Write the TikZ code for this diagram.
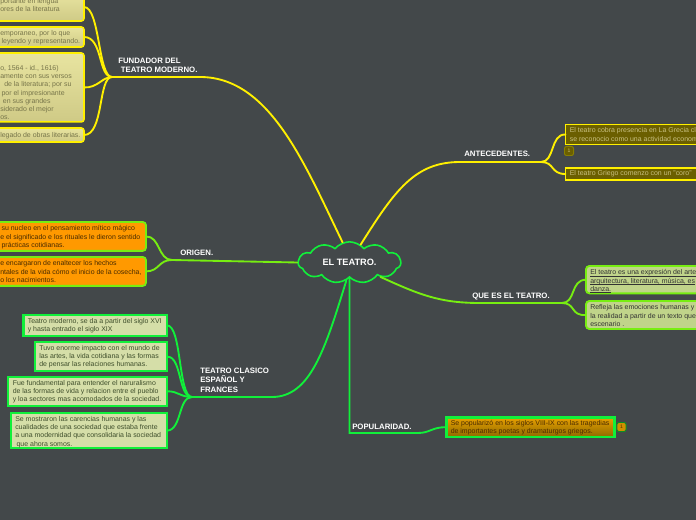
\documentclass[tikz,border=0pt]{standalone}
\usepackage{fontspec}
\setmainfont{Liberation Sans}
\usepackage{xcolor}
\usetikzlibrary{shapes.symbols}
\definecolor{fondo}{HTML}{43484A}
\definecolor{amarillo}{HTML}{FFF000}
\definecolor{verdelima}{HTML}{77EE11}
\definecolor{verde}{HTML}{11F03A}
\definecolor{crema}{HTML}{E8E4A0}
\definecolor{cremabajo}{HTML}{CFCA86}
\definecolor{textoamarillo}{HTML}{77754A}
\definecolor{verdeclaro}{HTML}{D5DEA8}
\definecolor{textoverde}{HTML}{3F4F2C}
\definecolor{oliva}{HTML}{6B5F00}
\definecolor{olivaclaro}{HTML}{C8C080}
\definecolor{naranja}{HTML}{FF9900}
\definecolor{marron}{HTML}{4A2C00}
\definecolor{lima}{HTML}{C0D48A}
\definecolor{ocre}{HTML}{E8A000}
\definecolor{ocrebajo}{HTML}{8E6A00}
\newcommand{\subraya}[1]{\setbox0\hbox{#1}\rlap{\rule[-0.8pt]{\wd0}{0.3pt}}\box0}
\tikzset{
  rama/.style={line width=1.4pt, line cap=round},
  titulo/.style={font=\bfseries\fontsize{5.85}{6.9}\selectfont, text=white, align=left, anchor=north west, inner sep=0pt},
  caja/.style={anchor=north west, inner sep=0pt, outer sep=0pt, line width=1.2pt},
  cajaamarilla/.style={caja, draw=amarillo, rounded corners=2pt, top color=crema, bottom color=cremabajo},
  cajaverde/.style={caja, draw=verde, fill=verdeclaro, line width=1.6pt},
  cajaoliva/.style={caja, draw=amarillo, fill=oliva, line width=1.4pt},
  cajanaranja/.style={caja, draw=verdelima, fill=naranja, rounded corners=2.5pt, line width=1.4pt},
  cajalima/.style={caja, draw=verdelima, fill=lima, rounded corners=2.5pt, line width=1.4pt},
  marca/.style={rounded corners=1.5pt, line width=.7pt, minimum size=6.8pt, inner sep=0pt, font=\fontsize{3.8}{4}\selectfont},
  texto/.style={anchor=north west, inner sep=0pt, font=\fontsize{5.22}{6.2}\selectfont, align=left, text=#1},
}
\begin{document}
\begin{tikzpicture}[x=0.75pt,y=-0.75pt]
  \useasboundingbox (0,0) rectangle (696,520);
  \fill[fondo] (0,0) rectangle (696,520);
  % Nube central
  \node[cloud, cloud puffs=11, cloud puff arc=100, aspect=2.4, draw=verde, fill=fondo, line width=1.2pt,
    minimum width=77pt, minimum height=31pt, inner sep=0pt, font=\bfseries\fontsize{6.9}{8}\selectfont, text=white] (teatro) at (349.5,262.5) {EL TEATRO.};
  % Titulos
  \node[titulo] (fundador) at (118,57.5) {FUNDADOR DEL\\ \hspace*{2pt}TEATRO MODERNO.};
  \node[titulo] (antecedentes) at (464,151) {ANTECEDENTES.};
  \node[titulo] (origen) at (180,249.5) {ORIGEN.};
  \node[titulo] (quees) at (472,293) {QUE ES EL TEATRO.};
  \node[titulo] (clasico) at (200,368) {TEATRO CLASICO\\ESPAÑOL Y\\FRANCES};
  \node[titulo] (popular) at (352,424) {POPULARIDAD.};
  % Uniones
  \coordinate (ufundador) at (112,77);
  \coordinate (uantecedentes) at (541,162);
  \coordinate (uorigen) at (172,260);
  \coordinate (uquees) at (562,303);
  \coordinate (uclasico) at (192,397);
  % Cajas de FUNDADOR
  \node[cajaamarilla, minimum width=70.5pt, minimum height=21pt] (f1) at (-10,-7) {};
  \node[cajaamarilla, minimum width=70.5pt, minimum height=15pt] (f2) at (-10,27) {};
  \node[cajaamarilla, minimum width=70.5pt, minimum height=51.7pt] (f3) at (-10,53) {};
  \node[cajaamarilla, minimum width=70.5pt, minimum height=10.5pt] (f4) at (-10,128) {};
  \node[texto=textoamarillo] (tf1) at (0,-2) {portante en lengua\\ores de la literatura};
  \node[texto=textoamarillo] (tf2) at (0,30) {emporaneo, por lo que\\\hspace*{1pt}leyendo y representando.};
  \node[texto=textoamarillo] (tf3) at (0,65) {o, 1564 - id., 1616)\\amente con sus versos\\\hspace*{3pt}de la literatura; por su\\\hspace*{1pt}por el impresionante\\\hspace*{2pt}en sus grandes\\siderado el mejor\\os.};
  \node[texto=textoamarillo] (tf4) at (0,132) {legado de obras literarias.};
  % Cajas de ORIGEN
  \node[cajanaranja, minimum width=120pt, minimum height=21.7pt] (o1) at (-14,222) {};
  \node[cajanaranja, minimum width=120pt, minimum height=21.7pt] (o2) at (-14,257) {};
  \node[texto=marron] (to1) at (0,225.5) {\hspace*{1pt}su nucleo en el pensamiento mítico mágico\\e el significado e los rituales le dieron sentido\\\hspace*{1pt}prácticas cotidianas.};
  \node[texto=marron] (to2) at (0,260.5) {e encargaron de enaltecer los hechos\\ntales de la vida cómo el inicio de la cosecha,\\o los nacimientos.};
  % Cajas de TEATRO CLASICO
  \node[cajaverde, minimum width=107.5pt, minimum height=15.5pt] (c1) at (23.5,315) {};
  \node[cajaverde, minimum width=99pt, minimum height=22pt] (c2) at (35,342) {};
  \node[cajaverde, minimum width=119.5pt, minimum height=21.5pt] (c3) at (8,377) {};
  \node[cajaverde, minimum width=117pt, minimum height=26.5pt] (c4) at (11,413) {};
  \node[texto=textoverde] (tc1) at (27.5,318) {Teatro moderno, se da a partir del siglo XVI\\y hasta entrado el siglo XIX};
  \node[texto=textoverde] (tc2) at (39,345) {Tuvo enorme impacto con el mundo de\\las artes, la vida cotidiana y las formas\\de pensar las relaciones humanas.};
  \node[texto=textoverde] (tc3) at (12.5,380) {Fue fundamental para entender el naruralismo\\de las formas de vida y relacion entre el pueblo\\y loa sectores mas acomodados de la sociedad.};
  \node[texto=textoverde] (tc4) at (15,416) {Se mostraron las carencias humanas y las\\cualidades de una sociedad que estaba frente\\a una modernidad que consolidaria la sociedad\\\hspace*{1pt}que ahora somos.};
  % Cajas de la derecha
  \node[cajaoliva, minimum width=110pt, minimum height=15pt] (a1) at (565.5,124.5) {};
  \node[cajaoliva, minimum width=110pt, minimum height=9pt] (a2) at (565.5,168) {};
  \node[texto=olivaclaro] (ta1) at (569.5,127.5) {El teatro cobra presencia en La Grecia cl\\se reconocio como una actividad econom};
  \node[texto=olivaclaro] (ta2) at (569.5,170.5) {El teatro Griego comenzo con un "coro"};
  \node[cajalima, minimum width=100pt, minimum height=20.5pt] (q1) at (586,266) {};
  \node[cajalima, minimum width=100pt, minimum height=21pt] (q2) at (586,301) {};
  \node[texto=black!80] (tq1) at (590,269.5) {\subraya{El teatro es una expresión del arte}\\\subraya{arquitectura, literatura, música, es}\\\subraya{danza.}};
  \node[texto=black!80] (tq2) at (590,304.5) {Refleja las emociones humanas y\\la realidad a partir de un texto que\\escenario .};
  \node[caja, draw=verde, top color=ocre, bottom color=ocrebajo, line width=1.6pt, minimum width=126pt, minimum height=14.5pt] (p1) at (446.5,417.5) {};
  \node[texto=marron] (tp1) at (450.5,420) {Se popularizó en los siglos VIII-IX con las tragedias\\de importantes poetas y dramaturgos griegos.};
  % Marcas
  \node[marca, draw=oliva!80!yellow, fill=oliva, text=olivaclaro] (m1) at (569,151) {1};
  \node[marca, draw=verde!60!black, fill=ocre!90!black, text=marron] (m2) at (621.5,427) {1};
  % Ramas
  \draw[rama, amarillo] (ufundador) -- (200,77) .. controls (270,77) and (305,165) .. (teatro.109);
  \draw[rama, amarillo] (ufundador) .. controls (98,77) and (100,7) .. (84,7);
  \draw[rama, amarillo] (ufundador) .. controls (98,77) and (103,37) .. (f2.east);
  \draw[rama, amarillo] (ufundador) .. controls (102,77) and (98,88) .. (f3.east);
  \draw[rama, amarillo] (ufundador) .. controls (98,77) and (104,135) .. (f4.east);
  \draw[rama, amarillo] (teatro.58) .. controls (395,190) and (415,162) .. (460,162) -- (uantecedentes);
  \draw[rama, amarillo] (uantecedentes) .. controls (555,162) and (550,134) .. (a1.west);
  \draw[rama, amarillo] (uantecedentes) .. controls (555,162) and (550,174) .. (a2.west);
  \draw[rama, verdelima] (teatro.180) -- (uorigen);
  \draw[rama, verdelima] (uorigen) .. controls (158,260) and (160,236) .. (o1.east);
  \draw[rama, verdelima] (uorigen) .. controls (158,260) and (160,271) .. (o2.east);
  \draw[rama, verdelima] (teatro.-25) .. controls (420,295) and (440,303) .. (480,303) -- (uquees);
  \draw[rama, verdelima] (uquees) .. controls (576,303) and (570,280) .. (q1.west);
  \draw[rama, verdelima] (uquees) .. controls (576,303) and (570,316) .. (q2.west);
  \draw[rama, verde] (teatro.-100) .. controls (325,350) and (310,397) .. (272,397) -- (uclasico);
  \draw[rama, verde] (uclasico) .. controls (178,397) and (182,325) .. (c1.east);
  \draw[rama, verde] (uclasico) .. controls (178,397) and (182,356) .. (c2.east);
  \draw[rama, verde] (uclasico) .. controls (180,397) and (178,391) .. (c3.east);
  \draw[rama, verde] (uclasico) .. controls (178,397) and (182,430) .. (c4.east);
  \draw[rama, verde] (teatro.-90) -- (349.5,433) -- (418,433) .. controls (430,433) and (432,427) .. (p1.west);
\end{tikzpicture}
\end{document}
